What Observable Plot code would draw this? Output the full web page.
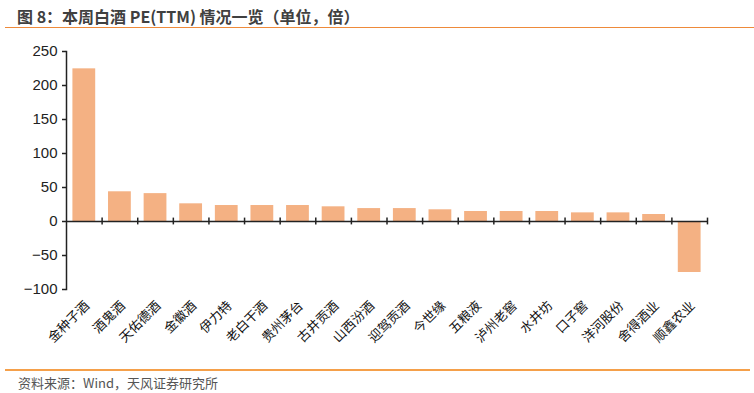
<!DOCTYPE html>
<html>
<head>
<meta charset="utf-8">
<script src="https://cdn.jsdelivr.net/npm/d3@7"></script>
<script src="https://cdn.jsdelivr.net/npm/@observablehq/plot@0.6"></script>
<style>
  html, body { margin: 0; padding: 0; background: #fff; }
  body { width: 754px; height: 393px; position: relative; overflow: hidden; font-family: "Noto Sans CJK SC", "Noto Sans", sans-serif; }
  #title { position: absolute; left: 17px; top: 4px; font-size: 16px; font-weight: 700; color: #404040; white-space: pre; }
  #topline { position: absolute; left: 5px; top: 27px; width: 749px; height: 1px; background: #EE8A3A; }
  #chart { position: absolute; left: 0; top: 30px; }
  #bottomline { position: absolute; left: 5px; top: 369px; width: 745px; height: 2px; background: #F5A04A; }
  #caption { position: absolute; left: 18px; top: 373px; font-size: 13px; color: #555; white-space: pre; }
</style>
</head>
<body>
<div id="title">图 8：本周白酒 PE(TTM) 情况一览（单位，倍）</div>
<div id="topline"></div>
<div id="chart"></div>
<div id="bottomline"></div>
<div id="caption">资料来源：Wind，天风证券研究所</div>
<script>
const companies = ["金种子酒","酒鬼酒","天佑德酒","金徽酒","伊力特","老白干酒","贵州茅台","古井贡酒","山西汾酒","迎驾贡酒","今世缘","五粮液","泸州老窖","水井坊","口子窖","洋河股份","舍得酒业","顺鑫农业"];
const peValues = [224.5, 43.7, 41, 26, 23.5, 23.5, 23.5, 21.6, 19, 19, 17.2, 14.7, 14.7, 14.7, 12.7, 12.7, 10.3, -75];
const yTicks = [-100, -50, 0, 50, 100, 150, 200, 250];

const data = companies.map((c, i) => ({name: c, pe: peValues[i]}));

const W = 754, H = 340, ML = 66, MR = 47, MT = 21, MB = 81;
const step = (W - ML - MR) / companies.length;

const chart = Plot.plot({
  width: W,
  height: H,
  marginLeft: ML,
  marginRight: MR,
  marginTop: MT,
  marginBottom: MB,
  style: {fontFamily: "Liberation Sans, Arial, sans-serif", background: "#fff", color: "#222"},
  x: {domain: companies, paddingInner: 0.36, paddingOuter: 0.18, round: false, label: null},
  y: {domain: [-100, 250], label: null},
  marks: [
    Plot.barY(data, {x: "name", y: "pe", fill: "#F4B183"}),
    Plot.ruleY([0], {stroke: "#222", strokeWidth: 1.5}),
    Plot.ruleX(companies, {x: d => d, y1: -5, y2: 5, dx: step / 2, stroke: "#222", strokeWidth: 1.5}),
    Plot.frame({anchor: "left", stroke: "#222", strokeWidth: 1.5}),
    Plot.axisY({ticks: yTicks, tickSize: 4, tickPadding: 5, fontSize: 15, label: null, tickFormat: d => d < 0 ? "\u2212" + Math.abs(d) : String(d), stroke: "#222", strokeWidth: 1.5}),
    Plot.axisX({anchor: "bottom", tickSize: 0, tickRotate: -45, tickPadding: 14, dx: 3, fontSize: 13, label: null, fontFamily: "Noto Sans CJK SC", fill: "#111"})
  ]
});
document.getElementById("chart").appendChild(chart);
</script>
</body>
</html>
